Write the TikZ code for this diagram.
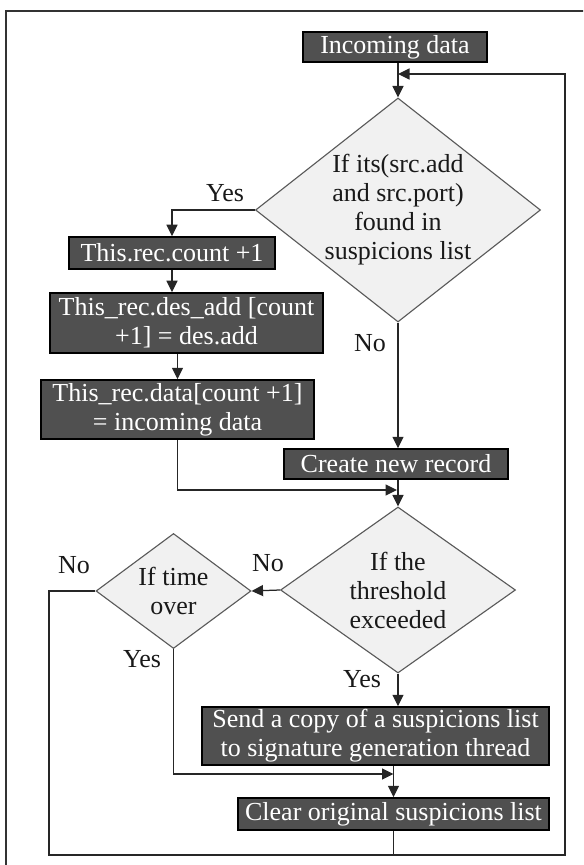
\documentclass[tikz,border=0pt]{standalone}
\usepackage{fontspec}
\setmainfont{Liberation Serif}
\usetikzlibrary{arrows.meta,shapes.geometric}

\begin{document}
\begin{tikzpicture}[line join=miter,x=0.4pt,y=-0.4pt,
	font=\fontsize{10.4}{11.6}\selectfont,
	box/.style={draw=black,line width=0.6pt,fill=boxgray,text=white,inner sep=0pt,align=center},
	dia/.style={diamond,draw=diagray,line width=0.45pt,fill=diafill,inner sep=0pt},
	lbl/.style={text=black!90,inner sep=0pt,align=center},
	arr/.style={line width=0.5pt,draw=black!85,-{Triangle[length=4.6pt,width=4.4pt]}},
	lnk/.style={line width=0.5pt,draw=black!85}]
		\definecolor{boxgray}{RGB}{80,80,80}
		\definecolor{diagray}{RGB}{90,90,90}
		\definecolor{diafill}{RGB}{241,241,241}
		\clip(0,0) rectangle (583,865);
		\useasboundingbox (0,0) rectangle (583,865);
		\draw [line width=0.6pt,draw=black!80] (6,880) -- (6,11) -- (600,11);
		% boxes
		\node[box,minimum width=73.6pt,minimum height=12pt] (inc) at (395,47) {Incoming data};
		\node[box,minimum width=82.4pt,minimum height=12.8pt] (cnt) at (172,253) {This.rec.count +1};
		\node[box,minimum width=109.2pt,minimum height=24pt] (des) at (186.5,323) {This\_rec.des\_add [count\\+1] = des.add};
		\node[box,minimum width=109.2pt,minimum height=23.6pt] (dat) at (177.5,409.5) {This\_rec.data[count +1]\\= incoming data};
		\node[box,minimum width=89.6pt,minimum height=12pt] (crt) at (396,464) {Create new record};
		\node[box,minimum width=138.8pt,minimum height=23.2pt] (snd) at (375.5,736) {Send a copy of a suspicions list\\to signature generation thread};
		\node[box,minimum width=124.4pt,minimum height=12.8pt] (clr) at (393.5,814) {Clear original suspicions list};
		% decisions
		\node[dia,minimum width=114pt,minimum height=89.6pt] (q1) at (398,210) {};
		\node[lbl] at (q1) {If its(src.add\\and src.port)\\found in\\suspicions list};
		\node[dia,minimum width=94pt,minimum height=66.4pt] (q2) at (398,590) {};
		\node[lbl] at (q2) {If the\\threshold\\exceeded};
		\node[dia,minimum width=62pt,minimum height=46pt] (q3) at (173.5,591) {};
		\node[lbl] at (q3) {If time\\over};
		% merge points
		\coordinate (m0) at (398,74);
		\coordinate (m1) at (397,490);
		\coordinate (m2) at (393.5,774);
		\coordinate (lb) at (49,855);
		\coordinate (rb) at (565,855);
		% connectors
		\draw [arr] (inc.south -| q1.north) -- (q1.north);
		\draw [arr] (q1.west) -| (cnt.north);
		\draw [arr] (cnt.south) -- (cnt.south |- des.north);
		\draw [arr] (dat.north |- des.south) -- (dat.north);
		\draw [arr] (dat.south) |- (m1);
		\draw [arr] (q1.south) -- (q1.south |- crt.north);
		\draw [arr] (crt.south -| q2.north) -- (q2.north);
		\draw [arr] (q2.west) -- (q3.east);
		\draw [arr] (q2.south) -- (q2.south |- snd.north);
		\draw [arr] (q3.south) |- (m2);
		\draw [arr] (clr.north |- snd.south) -- (clr.north);
		\draw [lnk] (clr.south) -- (clr.south |- rb);
		\draw [arr] (q3.west) -| (lb) -- (rb) |- (m0);
		% labels
		\node[lbl] at (225,193) {Yes};
		\node[lbl] at (370,343) {No};
		\node[lbl] at (268,563) {No};
		\node[lbl] at (74,565) {No};
		\node[lbl] at (142,659) {Yes};
		\node[lbl] at (362,679) {Yes};
	\end{tikzpicture}
\end{document}
